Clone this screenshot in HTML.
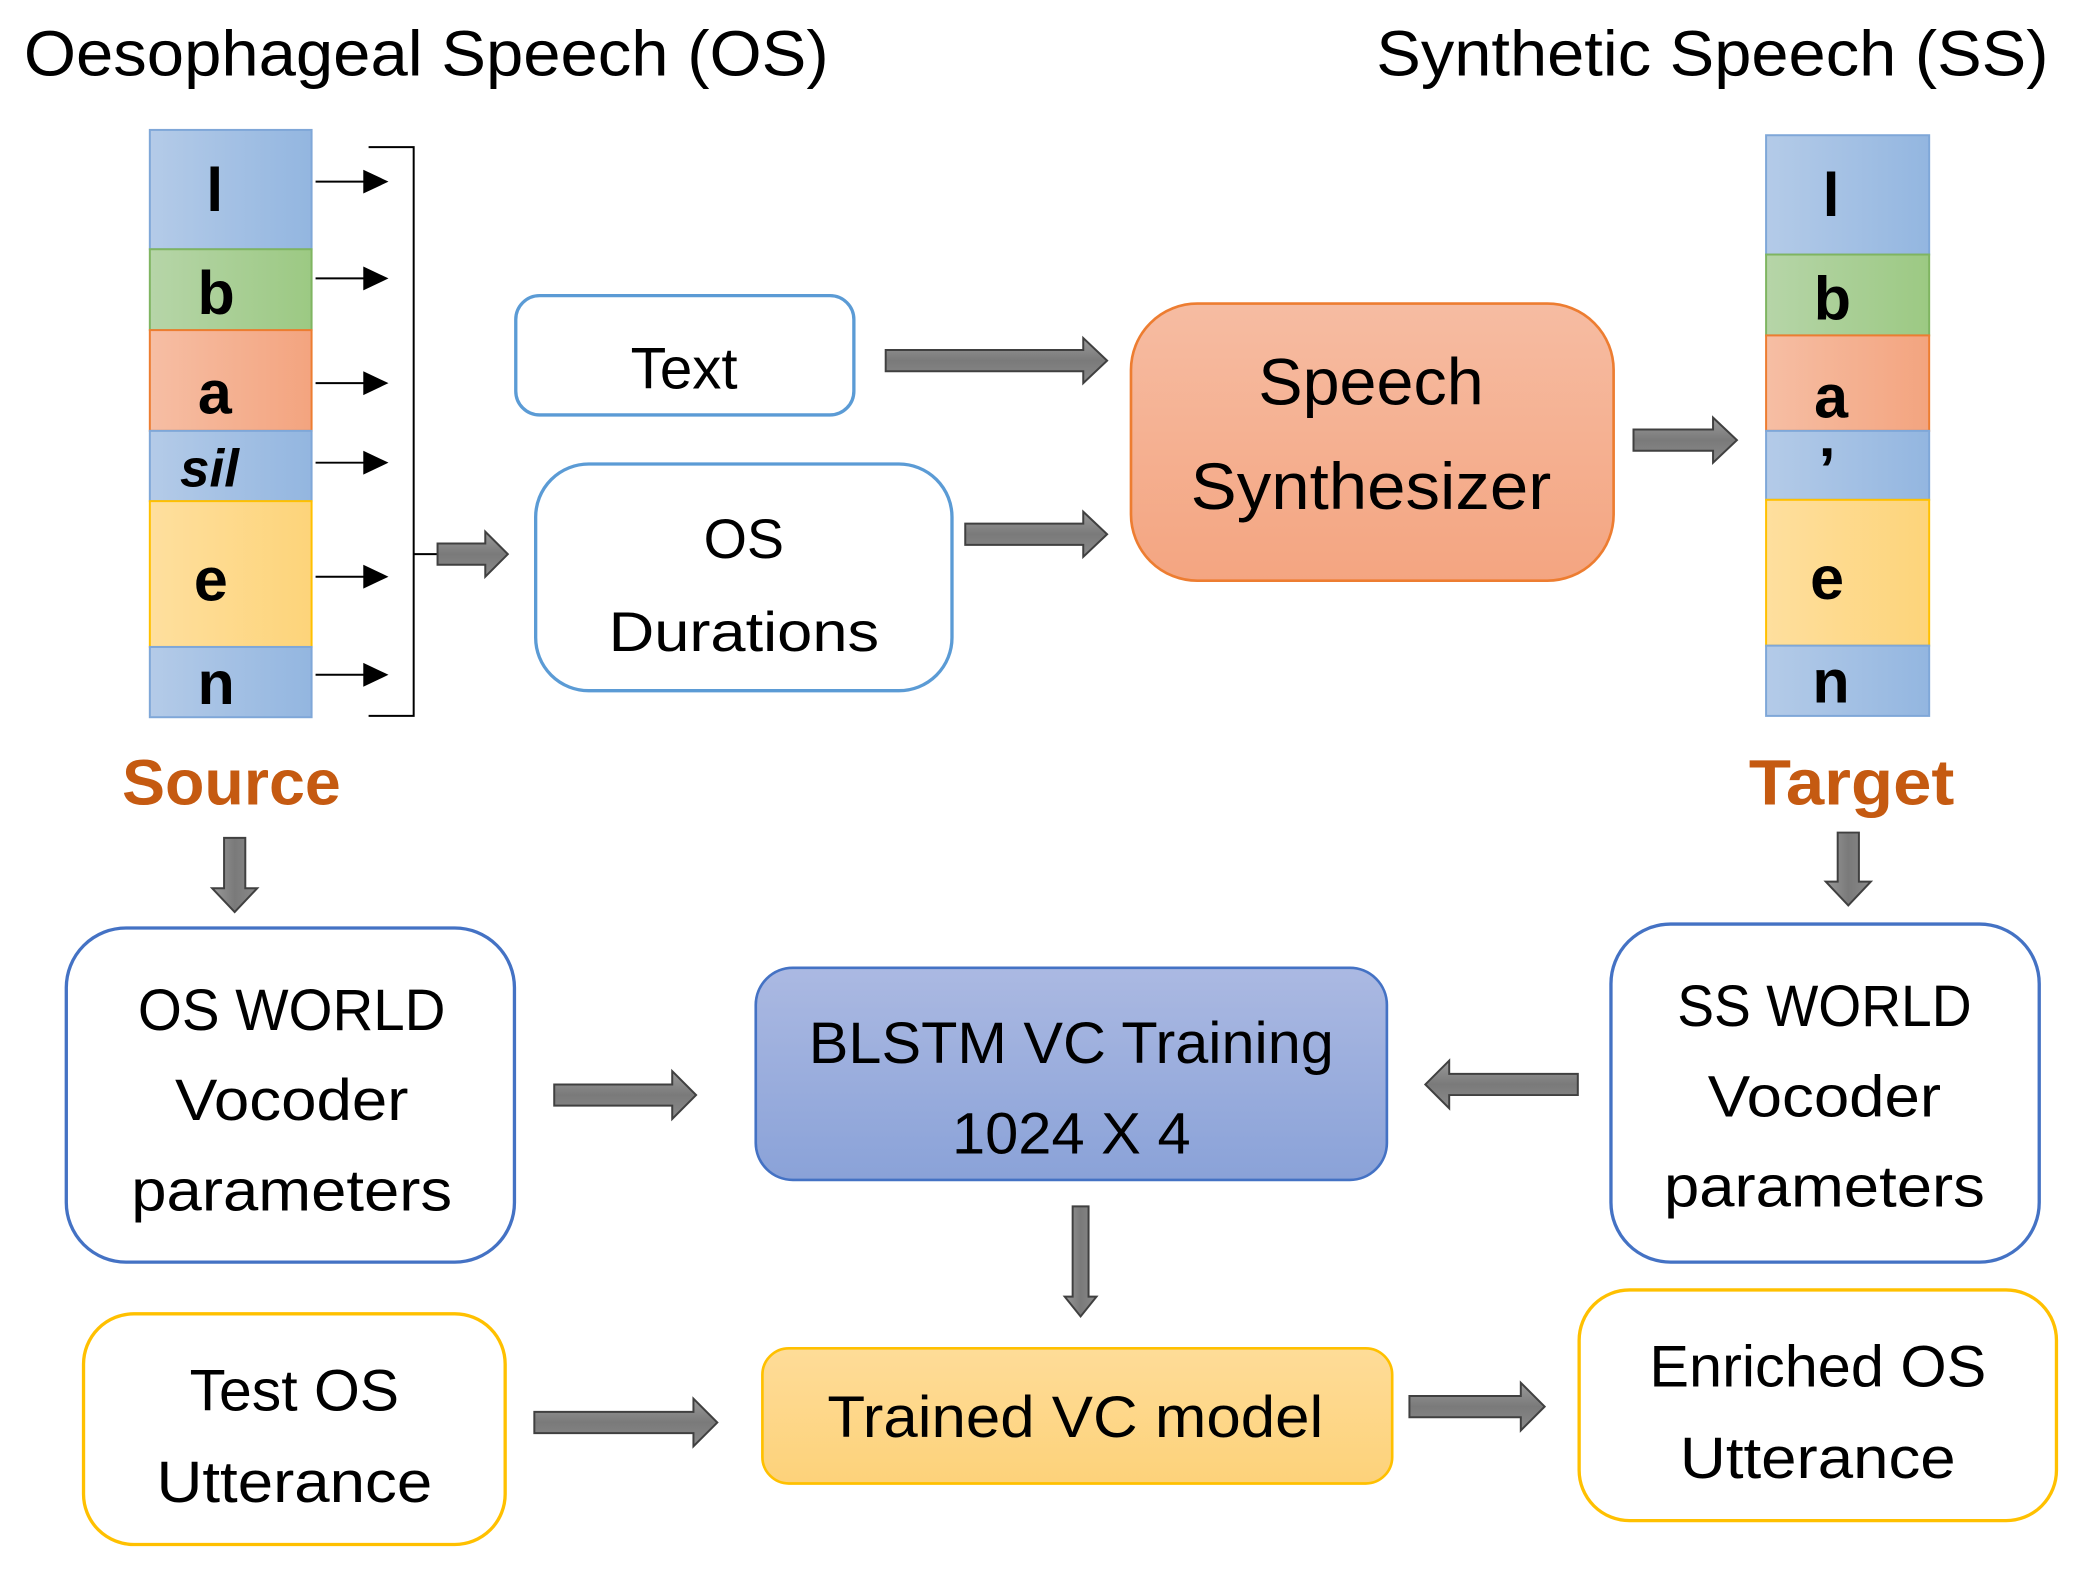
<!DOCTYPE html>
<html><head><meta charset="utf-8"><style>html,body{margin:0;padding:0;background:#fff}svg{display:block}</style></head>
<body>
<svg width="2079" height="1571" viewBox="0 0 1568 1185" preserveAspectRatio="none" xmlns="http://www.w3.org/2000/svg" font-family="Liberation Sans, sans-serif">
<defs>
<linearGradient id="gb" x1="0" x2="1"><stop offset="0" stop-color="#b4cbe8"/><stop offset="1" stop-color="#93b6e0"/></linearGradient>
<linearGradient id="gg" x1="0" x2="1"><stop offset="0" stop-color="#b6d5a8"/><stop offset="1" stop-color="#9cc983"/></linearGradient>
<linearGradient id="go" x1="0" x2="1"><stop offset="0" stop-color="#f6bea4"/><stop offset="1" stop-color="#f3a47f"/></linearGradient>
<linearGradient id="gy" x1="0" x2="1"><stop offset="0" stop-color="#fedf9e"/><stop offset="1" stop-color="#fdd47a"/></linearGradient>
<linearGradient id="gs" x1="0" y1="0" x2="0" y2="1"><stop offset="0" stop-color="#f6bca2"/><stop offset="1" stop-color="#f4a581"/></linearGradient>
<linearGradient id="gbl" x1="0" y1="0" x2="0" y2="1"><stop offset="0" stop-color="#abb9e2"/><stop offset="1" stop-color="#8aa2d8"/></linearGradient>
<linearGradient id="gt" x1="0" y1="0" x2="0" y2="1"><stop offset="0" stop-color="#fedc98"/><stop offset="1" stop-color="#fdd27a"/></linearGradient>
<linearGradient id="ga" x1="0" y1="0" x2="0" y2="1"><stop offset="0" stop-color="#9a9a9a"/><stop offset="0.5" stop-color="#7a7a7a"/><stop offset="1" stop-color="#8a8a8a"/></linearGradient>
<linearGradient id="gav" x1="0" y1="0" x2="1" y2="0"><stop offset="0" stop-color="#9a9a9a"/><stop offset="0.5" stop-color="#7a7a7a"/><stop offset="1" stop-color="#8a8a8a"/></linearGradient>
</defs>

<text x="18" y="57" font-size="48" textLength="607" lengthAdjust="spacingAndGlyphs">Oesophageal Speech (OS)</text>
<text x="1038" y="57" font-size="48" textLength="507" lengthAdjust="spacingAndGlyphs">Synthetic Speech (SS)</text>

<g stroke-width="1.5">
<rect x="113" y="98" width="122" height="90" fill="url(#gb)" stroke="#7fa7d8"/>
<rect x="113" y="188" width="122" height="61" fill="url(#gg)" stroke="#7fb561"/>
<rect x="113" y="249" width="122" height="76" fill="url(#go)" stroke="#ed7d31"/>
<rect x="113" y="325" width="122" height="53" fill="url(#gb)" stroke="#7fa7d8"/>
<rect x="113" y="378" width="122" height="110" fill="url(#gy)" stroke="#ffc000"/>
<rect x="113" y="488" width="122" height="53" fill="url(#gb)" stroke="#7fa7d8"/>
</g>
<g font-size="46" font-weight="bold" text-anchor="middle">
<text x="162" y="159">l</text><text x="163" y="237">b</text><text x="162" y="312">a</text>
<text x="158" y="367" font-style="italic" font-size="40">sil</text>
<text x="159" y="453">e</text><text x="163" y="531">n</text>
</g>
<g stroke="#000" stroke-width="1.5">
<line x1="238" y1="137" x2="278" y2="137"/><line x1="238" y1="210" x2="278" y2="210"/><line x1="238" y1="289" x2="278" y2="289"/>
<line x1="238" y1="349" x2="278" y2="349"/><line x1="238" y1="435" x2="278" y2="435"/><line x1="238" y1="509" x2="278" y2="509"/>
<polyline points="278,111 312,111 312,540 278,540" fill="none"/>
<line x1="312" y1="418" x2="330" y2="418"/>
</g>
<g fill="#000">
<path d="M274,128 L293,137 L274,146Z"/><path d="M274,201 L293,210 L274,219Z"/><path d="M274,280 L293,289 L274,298Z"/>
<path d="M274,340 L293,349 L274,358Z"/><path d="M274,426 L293,435 L274,444Z"/><path d="M274,500 L293,509 L274,518Z"/>
</g>

<g stroke-width="1.5">
<rect x="1332" y="102" width="123" height="90" fill="url(#gb)" stroke="#7fa7d8"/>
<rect x="1332" y="192" width="123" height="61" fill="url(#gg)" stroke="#7fb561"/>
<rect x="1332" y="253" width="123" height="72" fill="url(#go)" stroke="#ed7d31"/>
<rect x="1332" y="325" width="123" height="52" fill="url(#gb)" stroke="#7fa7d8"/>
<rect x="1332" y="377" width="123" height="110" fill="url(#gy)" stroke="#ffc000"/>
<rect x="1332" y="487" width="123" height="53" fill="url(#gb)" stroke="#7fa7d8"/>
</g>
<g font-size="46" font-weight="bold" text-anchor="middle">
<text x="1381" y="163">l</text><text x="1382" y="241">b</text><text x="1381" y="315">a</text>
<text x="1378" y="370">’</text><text x="1378" y="452">e</text><text x="1381" y="530">n</text>
</g>

<rect x="389" y="223" width="255" height="90" rx="18" fill="#fff" stroke="#5b9bd5" stroke-width="2.5"/>
<text x="516" y="293" font-size="44" text-anchor="middle">Text</text>
<rect x="404" y="350" width="314" height="171" rx="40" fill="#fff" stroke="#5b9bd5" stroke-width="2.5"/>
<text x="561" y="421" font-size="42" text-anchor="middle">OS</text>
<text x="561" y="491" font-size="42" text-anchor="middle" textLength="204" lengthAdjust="spacingAndGlyphs">Durations</text>
<rect x="853" y="229" width="364" height="209" rx="50" fill="url(#gs)" stroke="#ed7d31" stroke-width="2"/>
<text x="1034" y="305" font-size="50" text-anchor="middle" textLength="170" lengthAdjust="spacingAndGlyphs">Speech</text>
<text x="1034" y="384" font-size="50" text-anchor="middle" textLength="272" lengthAdjust="spacingAndGlyphs">Synthesizer</text>

<g font-size="48" font-weight="bold" fill="#c55a11">
<text x="92" y="607" textLength="165" lengthAdjust="spacingAndGlyphs">Source</text>
<text x="1319" y="607" textLength="155" lengthAdjust="spacingAndGlyphs">Target</text>
</g>

<rect x="50" y="700" width="338" height="252" rx="45" fill="#fff" stroke="#4472c4" stroke-width="2.5"/>
<g font-size="44" text-anchor="middle">
<text x="220" y="777" textLength="232" lengthAdjust="spacingAndGlyphs">OS WORLD</text>
<text x="220" y="845" textLength="176" lengthAdjust="spacingAndGlyphs">Vocoder</text>
<text x="220" y="913" textLength="242" lengthAdjust="spacingAndGlyphs">parameters</text>
</g>
<rect x="570" y="730" width="476" height="160" rx="28" fill="url(#gbl)" stroke="#4472c4" stroke-width="2"/>
<g font-size="44" text-anchor="middle">
<text x="808" y="802" textLength="396" lengthAdjust="spacingAndGlyphs">BLSTM VC Training</text>
<text x="808" y="870" textLength="180" lengthAdjust="spacingAndGlyphs">1024 X 4</text>
</g>
<rect x="1215" y="697" width="323" height="255" rx="45" fill="#fff" stroke="#4472c4" stroke-width="2.5"/>
<g font-size="44" text-anchor="middle">
<text x="1376" y="774" textLength="222" lengthAdjust="spacingAndGlyphs">SS WORLD</text>
<text x="1376" y="842" textLength="176" lengthAdjust="spacingAndGlyphs">Vocoder</text>
<text x="1376" y="910" textLength="242" lengthAdjust="spacingAndGlyphs">parameters</text>
</g>
<rect x="63" y="991" width="318" height="174" rx="38" fill="#fff" stroke="#ffc000" stroke-width="2.5"/>
<g font-size="44" text-anchor="middle">
<text x="222" y="1064" textLength="158" lengthAdjust="spacingAndGlyphs">Test OS</text>
<text x="222" y="1133" textLength="208" lengthAdjust="spacingAndGlyphs">Utterance</text>
</g>
<rect x="575" y="1017" width="475" height="102" rx="20" fill="url(#gt)" stroke="#ffc000" stroke-width="2"/>
<text x="811" y="1084" font-size="44" text-anchor="middle" textLength="374" lengthAdjust="spacingAndGlyphs">Trained VC model</text>
<rect x="1191" y="973" width="360" height="174" rx="38" fill="#fff" stroke="#ffc000" stroke-width="2.5"/>
<g font-size="44" text-anchor="middle">
<text x="1371" y="1046" textLength="254" lengthAdjust="spacingAndGlyphs">Enriched OS</text>
<text x="1371" y="1115" textLength="208" lengthAdjust="spacingAndGlyphs">Utterance</text>
</g>

<g fill="url(#ga)" stroke="#404040" stroke-width="1.5">
<path d="M330,410 H366 V401 L383,418 L366,435 V426 H330Z"/>
<path d="M668,264 H817 V255 L835,272 L817,289 V280 H668Z"/>
<path d="M728,395 H817 V386 L835,403 L817,420 V411 H728Z"/>
<path d="M1232,324 H1292 V315 L1310,332 L1292,349 V340 H1232Z"/>
<path d="M418,818 H507 V808 L525,826 L507,844 V834 H418Z"/>
<path d="M1190,810 H1093 V800 L1075,818 L1093,836 V826 H1190Z"/>
<path d="M403,1065 H523 V1055 L541,1073 L523,1091 V1081 H403Z"/>
<path d="M1063,1053 H1147 V1043 L1165,1061 L1147,1079 V1069 H1063Z"/>
</g>
<g fill="url(#gav)" stroke="#404040" stroke-width="1.5">
<path d="M169,632 V670 H160 L177,688 L194,670 H185 V632Z"/>
<path d="M1386,628 V665 H1377 L1394,683 L1411,665 H1402 V628Z"/>
<path d="M809,910 V978 H803 L815,993 L827,978 H821 V910Z"/>
</g>
</svg>
</body></html>
